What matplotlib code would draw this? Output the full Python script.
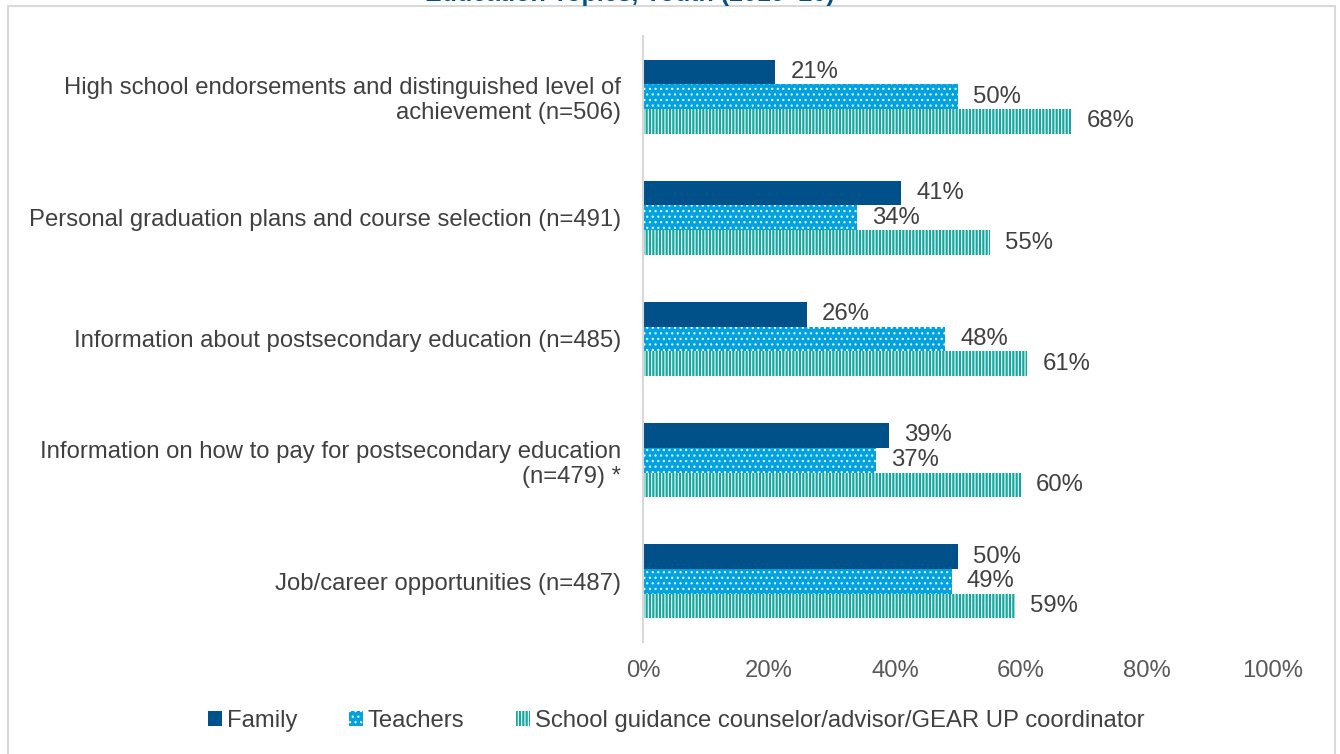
import matplotlib
matplotlib.use("Agg")
import matplotlib.pyplot as plt
from matplotlib.patches import Rectangle
import numpy as np

plt.rcParams['font.family'] = ['Liberation Sans', 'DejaVu Sans']
plt.rcParams['hatch.linewidth'] = 0.8

categories = [
    "High school endorsements and distinguished level of\nachievement (n=506)",
    "Personal graduation plans and course selection (n=491)",
    "Information about postsecondary education (n=485)",
    "Information on how to pay for postsecondary education\n(n=479) *",
    "Job/career opportunities (n=487)",
]
series_names = ["Family", "Teachers", "School guidance counselor/advisor/GEAR UP coordinator"]
family = [21, 41, 26, 39, 50]
teachers = [50, 34, 48, 37, 49]
counselor = [68, 55, 61, 60, 59]
x_ticks = [0, 20, 40, 60, 80, 100]
x_tick_labels = ["0%", "20%", "40%", "60%", "80%", "100%"]
title = "Education Topics, Youth (2019\u201320)"

colors = ["#00508A", "#00A3E0", "#13A89E"]
hatches = [None, "...", "|||||"]
FS = 17.2

fig = plt.figure(figsize=(13.4, 7.54), dpi=100)
ax = fig.add_axes([643/1340, 1-642/754, 630/1340, 606/754])

n = len(categories)
y = np.arange(n)
h = 0.204
offsets = [-h, 0, h]
data = [family, teachers, counselor]
for i, (vals, name) in enumerate(zip(data, series_names)):
    kw = dict(color=colors[i], label=name, height=h, linewidth=0)
    if hatches[i]:
        kw.update(hatch=hatches[i], edgecolor="white")
    bars = ax.barh(y + offsets[i], vals, **kw)
    for b, v in zip(bars, vals):
        ax.text(v + 2.4, b.get_y() + b.get_height()/2, f"{v}%", va="center", ha="left",
                fontsize=FS, color="#404040")

ax.set_ylim(n - 0.5, -0.5)
ax.set_xlim(0, 100)
ax.set_yticks(y)
ax.set_yticklabels(categories, fontsize=FS, color="#404040", ha="right")
ax.set_xticks(x_ticks)
ax.set_xticklabels(x_tick_labels, fontsize=FS, color="#595959")
ax.tick_params(axis="both", length=0)
ax.tick_params(axis="x", pad=13)
ax.tick_params(axis="y", pad=16)
for s in ["top", "right", "bottom"]:
    ax.spines[s].set_visible(False)
ax.spines["left"].set_color("#D9D9D9")
ax.spines["left"].set_linewidth(1.5)

leg = fig.legend(loc="center", bbox_to_anchor=(676/1340, 1-721/754), ncol=3, frameon=False,
                 fontsize=FS, handlelength=0.6, handleheight=0.6, handletextpad=0.2,
                 columnspacing=2.15, labelcolor="#404040")

fig.patches.append(Rectangle((8/1340, -0.05), (1335-8)/1340, 1.05 - 6/754, transform=fig.transFigure,
                             fill=False, edgecolor="#D9D9D9", linewidth=1.5))
fig.text(630/1340, 1 - 1/754, title, ha="center", va="baseline", fontsize=18,
         fontweight="bold", color="#00508A")

fig.savefig("out.png", dpi=100)
